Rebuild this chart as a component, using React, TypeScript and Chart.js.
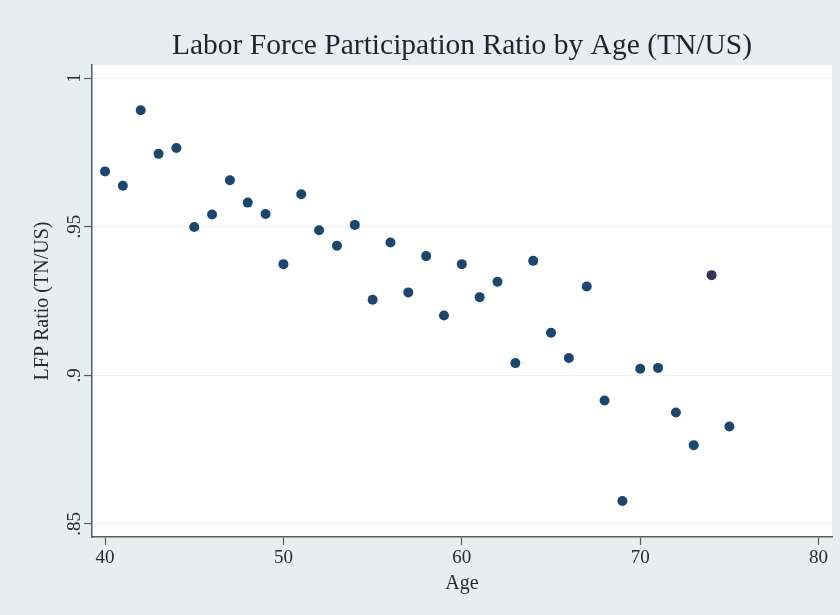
import React, { useEffect, useRef } from "react";
import { Chart, registerables } from "chart.js";

Chart.register(...registerables);

// ---- Data ----
const ages = [
  40, 41, 42, 43, 44, 45, 46, 47, 48, 49,
  50, 51, 52, 53, 54, 55, 56, 57, 58, 59,
  60, 61, 62, 63, 64, 65, 66, 67, 68, 69,
  70, 71, 72, 73, 74, 75,
];
const lfpRatio = [
  0.9686, 0.9638, 0.9892, 0.9745, 0.9765, 0.9499, 0.9541, 0.9656, 0.9581, 0.9543,
  0.9374, 0.9609, 0.9488, 0.9436, 0.9506, 0.9254, 0.9447, 0.9279, 0.9401, 0.9201,
  0.9374, 0.9263, 0.9315, 0.9041, 0.9385, 0.9143, 0.9058, 0.9299, 0.8915, 0.8577,
  0.9022, 0.9025, 0.8875, 0.8765, 0.9337, 0.8828,
];
const highlightAges = [74];

const xTickValues = [40, 50, 60, 70, 80];
const xTickLabels = ["40", "50", "60", "70", "80"];
const yTickValues = [0.85, 0.9, 0.95, 1];
const yTickLabels = [".85", ".9", ".95", "1"];

const chartTitle = "Labor Force Participation Ratio by Age (TN/US)";
const xAxisTitle = "Age";
const yAxisTitle = "LFP Ratio (TN/US)";

const SERIF = "'Liberation Serif', 'DejaVu Serif', serif";

const plotBackground = {
  id: "plotBackground",
  beforeDraw(chart: any) {
    const { ctx, chartArea } = chart;
    if (!chartArea) return;
    ctx.save();
    ctx.fillStyle = "#ffffff";
    ctx.fillRect(chartArea.left, chartArea.top, chartArea.right - chartArea.left, chartArea.bottom - chartArea.top);
    ctx.restore();
  },
};

// Title centred over the plot region (Stata style)
const plotTitle = {
  id: "plotTitle",
  afterDraw(chart: any) {
    const { ctx, chartArea } = chart;
    if (!chartArea) return;
    ctx.save();
    ctx.font = `29.5px ${SERIF}`;
    ctx.fillStyle = "#1f242c";
    ctx.textAlign = "center";
    ctx.textBaseline = "middle";
    ctx.fillText(chartTitle, (chartArea.left + chartArea.right) / 2, 46);
    ctx.restore();
  },
};

export default function App() {
  const canvasRef = useRef<HTMLCanvasElement | null>(null);

  useEffect(() => {
    if (!canvasRef.current) return;
    const mainPts = ages
      .map((a, i) => ({ x: a, y: lfpRatio[i] }))
      .filter((p) => !highlightAges.includes(p.x));
    const hiPts = ages
      .map((a, i) => ({ x: a, y: lfpRatio[i] }))
      .filter((p) => highlightAges.includes(p.x));

    const chart = new Chart(canvasRef.current, {
      type: "scatter",
      data: {
        datasets: [
          {
            label: "LFP Ratio",
            data: mainPts,
            backgroundColor: "#1a476f",
            borderColor: "#1a476f",
            borderWidth: 0,
            pointRadius: 5,
          },
          {
            label: "LFP Ratio (74)",
            data: hiPts,
            backgroundColor: "#35305e",
            borderColor: "#35305e",
            borderWidth: 0,
            pointRadius: 5,
          },
        ],
      },
      options: {
        animation: false,
        responsive: false,
        maintainAspectRatio: false,
        layout: { padding: { left: 0, right: 8, top: 65, bottom: 0 } },
        plugins: {
          legend: { display: false },
          tooltip: { enabled: false },
          title: { display: false },
        },
        scales: {
          x: {
            type: "linear",
            min: 39.27,
            max: 80.75,
            afterBuildTicks: (s: any) => {
              s.ticks = xTickValues.map((v) => ({ value: v }));
            },
            afterFit: (s: any) => {
              s.height = 78;
            },
            ticks: {
              autoSkip: false,
              maxRotation: 0,
              padding: 2,
              color: "#2a2a2a",
              font: { family: SERIF, size: 19 },
              callback: (_v: any, i: number) => xTickLabels[i],
            },
            grid: {
              drawOnChartArea: false,
              tickLength: 8,
              tickColor: "#5a5a5a",
              tickWidth: 1.2,
            },
            border: { color: "#5a5a5a", width: 1.5 },
            title: {
              display: true,
              text: xAxisTitle,
              color: "#2a2a2a",
              font: { family: SERIF, size: 20 },
              padding: { top: 0, bottom: 19 },
            },
          },
          y: {
            type: "linear",
            min: 0.8456,
            max: 1.0044,
            afterBuildTicks: (s: any) => {
              s.ticks = yTickValues.map((v) => ({ value: v }));
            },
            afterFit: (s: any) => {
              s.width = 92;
            },
            ticks: {
              autoSkip: false,
              minRotation: 90,
              maxRotation: 90,
              crossAlign: "center",
              padding: -3,
              color: "#2a2a2a",
              font: { family: SERIF, size: 19 },
              callback: (_v: any, i: number) => yTickLabels[i],
            },
            grid: {
              color: "#edf1f2",
              lineWidth: 1,
              tickLength: 8,
              tickColor: "#5a5a5a",
              tickWidth: 1.2,
            },
            border: { color: "#5a5a5a", width: 1.5 },
            title: {
              display: true,
              text: yAxisTitle,
              color: "#2a2a2a",
              font: { family: SERIF, size: 20 },
              padding: { top: 31, bottom: 0 },
            },
          },
        },
      },
      plugins: [plotBackground, plotTitle],
    });
    return () => chart.destroy();
  }, []);

  return (
    <div style={{ position: "absolute", left: 0, top: 0, width: 840, height: 615, background: "#e7eef0" }}>
      <canvas ref={canvasRef} width={840} height={615} style={{ display: "block", width: 840, height: 615 }} />
    </div>
  );
}
